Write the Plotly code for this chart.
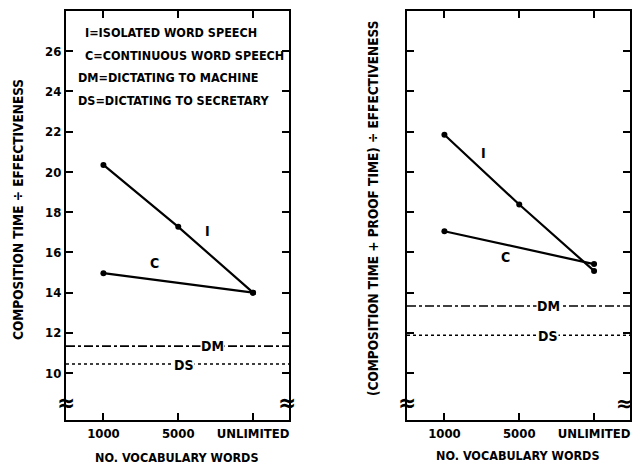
import plotly.graph_objects as go

categories = ["1000", "5000", "UNLIMITED"]
left_I = [20.35, 17.27, 14.0]
left_C = [14.97, None, 14.0]
left_DM = 11.34
left_DS = 10.45
right_I = [21.85, 18.38, 15.08]
right_C = [17.05, None, 15.42]
right_DM = 13.34
right_DS = 11.88
ytick_vals = [10, 12, 14, 16, 18, 20, 22, 24, 26]
legend_lines = ["I=ISOLATED WORD SPEECH", "C=CONTINUOUS WORD SPEECH",
                "DM=DICTATING TO MACHINE", "DS=DICTATING TO SECRETARY"]

FONT = "DejaVu Sans Condensed, sans-serif"
W, H = 635, 466

def px(x):
    return x / W

def py(y):
    return 1 - y / H

xs = [0, 1, 2]
fig = go.Figure()
for vals, xa, ya in [(left_I, "x", "y"), (left_C, "x", "y"), (right_I, "x2", "y2"), (right_C, "x2", "y2")]:
    xx = [x for x, v in zip(xs, vals) if v is not None]
    yy = [v for v in vals if v is not None]
    fig.add_trace(go.Scatter(x=xx, y=yy, xaxis=xa, yaxis=ya, mode="lines+markers",
                             line=dict(color="black", width=2.2),
                             marker=dict(color="black", size=6), showlegend=False,
                             hoverinfo="skip"))

shapes = []
for val, dash, xr, yr in [(left_DM, "dashdot", "x", "y"), (left_DS, "dot", "x", "y"),
                          (right_DM, "dashdot", "x2", "y2"), (right_DS, "dot", "x2", "y2")]:
    shapes.append(dict(type="line", xref=xr + " domain", yref=yr, x0=0, x1=1, y0=val, y1=val,
                       line=dict(color="black", width=1.6, dash=dash)))

axis_common = dict(showline=True, linecolor="black", linewidth=2, mirror="ticks",
                   ticks="inside", ticklen=7, tickwidth=2, tickcolor="black",
                   showgrid=False, zeroline=False,
                   tickfont=dict(family=FONT, size=13, color="black", weight="bold"))

ydom = [py(420), py(11)]
fig.update_layout(
    width=W, height=H, margin=dict(l=0, r=0, t=0, b=0),
    paper_bgcolor="white", plot_bgcolor="white",
    xaxis=dict(domain=[px(66), px(289)], range=[-0.5, 2.48], tickvals=xs, ticktext=categories,
               anchor="y", **axis_common),
    yaxis=dict(domain=ydom, range=[7.67, 28], tickvals=ytick_vals, anchor="x", **axis_common),
    xaxis2=dict(domain=[px(407), px(630)], range=[-0.5, 2.48], tickvals=xs, ticktext=categories,
                anchor="y2", **axis_common),
    yaxis2=dict(domain=ydom, range=[7.67, 28], tickvals=ytick_vals, anchor="x2",
                showticklabels=False, **axis_common),
    shapes=shapes,
)

ann = []
def text(x, y, s, size=15, xanchor="center", angle=0, bg=None):
    d = dict(x=x, y=y, xref="paper", yref="paper", text=s, showarrow=False, xanchor=xanchor,
             yanchor="middle", textangle=angle,
             font=dict(family=FONT, size=size, color="black", weight="bold"))
    if bg:
        d["bgcolor"] = bg
        d["borderpad"] = 0
    ann.append(d)

# legend text
starts = [83, 83, 76, 76]
rows = [33, 55, 77, 100]
for s, x0, y0 in zip(legend_lines, starts, rows):
    text(px(x0), py(y0), s, size=12.5, xanchor="left")

# series labels
text(px(207), py(231), "I", size=14)
text(px(154), py(263), "C", size=14)
text(px(212), py(346), "DM", size=14, bg="white")
text(px(184), py(365), "DS", size=14, bg="white")
text(px(483), py(153), "I", size=14)
text(px(505), py(257), "C", size=14)
text(px(548), py(306), "DM", size=14, bg="white")
text(px(548), py(336), "DS", size=14, bg="white")

# axis titles
text(px(18), py(210), "COMPOSITION TIME ÷ EFFECTIVENESS", size=13.5, angle=-90)
text(px(373), py(209), "(COMPOSITION TIME + PROOF TIME) ÷ EFFECTIVENESS", size=13.5, angle=-90)
text(px(177), py(457), "NO. VOCABULARY WORDS", size=12.5)
text(px(518), py(455), "NO. VOCABULARY WORDS", size=12.5)

# axis break marks
for xb in [66, 287, 407]:
    text(px(xb), py(403), "≈", size=24)
text(1.0, py(403), "≈", size=22, xanchor="right")

fig.update_layout(annotations=ann)
fig.write_html("out.html")
